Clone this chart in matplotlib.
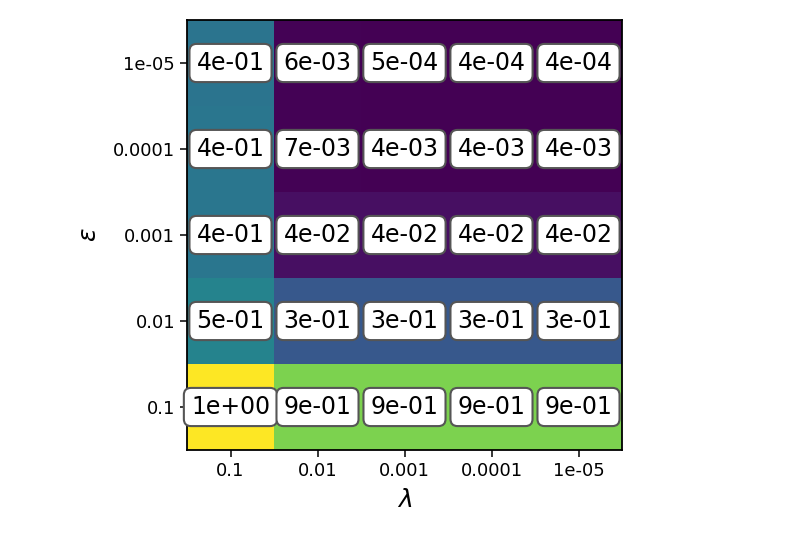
import numpy as np
import matplotlib.pyplot as plt

# regularisation values
lambdas = ["0.1", "0.01", "0.001", "0.0001", "1e-05"]
epsilons = ["0.1", "0.01", "0.001", "0.0001", "1e-05"]

# error per (epsilon, lambda); rows follow epsilons, columns follow lambdas
row_eps_1e_1 = [1.12, 0.9, 0.9, 0.9, 0.9]
row_eps_1e_2 = [0.5, 0.31, 0.31, 0.31, 0.31]
row_eps_1e_3 = [0.44, 0.045, 0.045, 0.045, 0.045]
row_eps_1e_4 = [0.44, 0.007, 0.004, 0.004, 0.004]
row_eps_1e_5 = [0.43, 0.006, 0.0005, 0.0004, 0.0004]

errors = np.array([row_eps_1e_1, row_eps_1e_2, row_eps_1e_3, row_eps_1e_4, row_eps_1e_5])

fig = plt.figure(figsize=(8.1, 5.4), dpi=100)
ax = fig.add_axes([187 / 810, 90 / 540, 435 / 810, 430 / 540])

ax.imshow(errors, cmap="viridis", origin="lower", aspect="auto")

for i in range(len(epsilons)):
    for j in range(len(lambdas)):
        ax.text(j, i, f"{errors[i, j]:.0e}", ha="center", va="center", fontsize=17,
                bbox=dict(boxstyle="round", facecolor="white", edgecolor="#555555",
                          linewidth=1.5))

ax.set_xticks(range(len(lambdas)))
ax.set_xticklabels(lambdas)
ax.set_yticks(range(len(epsilons)))
ax.set_yticklabels(epsilons)
ax.tick_params(labelsize=13, length=5, width=1.1)
for s in ax.spines.values():
    s.set_linewidth(1.3)
ax.set_xlabel(r"$\lambda$", fontsize=18, labelpad=6)
ax.set_ylabel(r"$\epsilon$", fontsize=18, labelpad=9)

fig.savefig("out.png", dpi=100)
